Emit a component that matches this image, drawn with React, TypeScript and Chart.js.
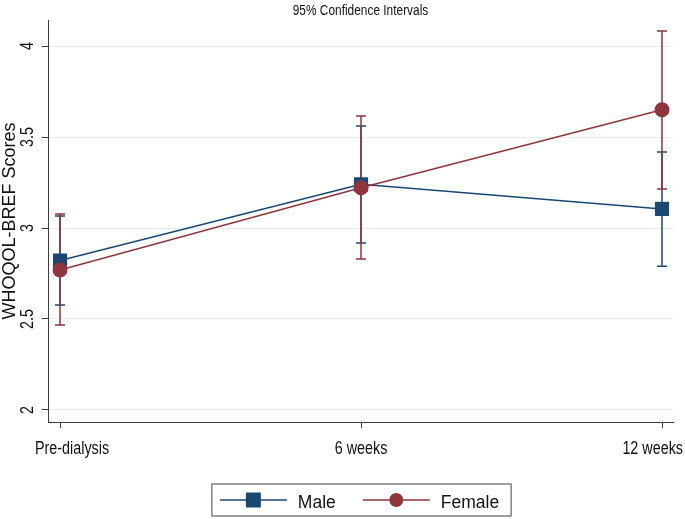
import React, { useEffect, useRef } from 'react';
import { Chart, registerables } from 'chart.js';

Chart.register(...registerables);

const categories = ['Pre-dialysis', '6 weeks', '12 weeks'];
const maleMean = [2.821, 3.24, 3.105];
const maleLower = [2.577, 2.918, 2.79];
const maleUpper = [3.066, 3.56, 3.418];
const femaleMean = [2.769, 3.221, 3.65];
const femaleLower = [2.467, 2.83, 3.214];
const femaleUpper = [3.077, 3.615, 4.082];
const yTicks = [2, 2.5, 3, 3.5, 4];
const yTickLabels = ['2', '2.5', '3', '3.5', '4'];
const titleText = '95% Confidence Intervals';
const yTitle = 'WHOQOL-BREF Scores';

const NAVY = '#1a476f';
const MAROON = '#90353b';
const AXIS = '#3c3c3c';
const GRID = '#e6eef0';
const REGULAR = '"Liberation Sans", Arial, sans-serif';
const NARROW_SCALE = 0.82;

const errorSeries = [
  { lower: maleLower, upper: maleUpper, color: NAVY },
  { lower: femaleLower, upper: femaleUpper, color: MAROON },
];

// draws condensed text (Arial-Narrow-like) at (x, y) with given rotation
function narrowText(ctx: any, text: string, x: number, y: number, align: string, rot = 0) {
  ctx.save();
  ctx.translate(x, y);
  if (rot) ctx.rotate(rot);
  ctx.scale(NARROW_SCALE, 1);
  ctx.textAlign = align;
  ctx.fillText(text, 0, 0);
  ctx.restore();
}

const decorPlugin = {
  id: 'stataDecor',
  beforeDatasetsDraw(chart: any) {
    const { ctx } = chart;
    const x = chart.scales.x;
    const y = chart.scales.y;
    ctx.save();
    ctx.lineWidth = 1.5;
    errorSeries.forEach((s) => {
      ctx.strokeStyle = s.color;
      categories.forEach((_, i) => {
        const px = x.getPixelForValue(i);
        const top = y.getPixelForValue(s.upper[i]);
        const bot = y.getPixelForValue(s.lower[i]);
        ctx.beginPath();
        ctx.moveTo(px, top);
        ctx.lineTo(px, bot);
        ctx.moveTo(px - 5, top);
        ctx.lineTo(px + 5, top);
        ctx.moveTo(px - 5, bot);
        ctx.lineTo(px + 5, bot);
        ctx.stroke();
      });
    });
    ctx.restore();
  },
  afterDraw(chart: any) {
    const { ctx, chartArea } = chart;
    const x = chart.scales.x;
    const y = chart.scales.y;
    const cx = (chartArea.left + chartArea.right) / 2;
    const cy = (chartArea.top + chartArea.bottom) / 2;
    ctx.save();
    ctx.fillStyle = '#111';

    // title
    ctx.font = `14.5px ${REGULAR}`;
    ctx.textBaseline = 'middle';
    narrowText(ctx, titleText, cx, 11, 'center');

    // y tick labels (rotated)
    ctx.font = `17.5px ${REGULAR}`;
    ctx.textBaseline = 'alphabetic';
    yTicks.forEach((v, i) => {
      const py = y.getPixelForValue(v);
      narrowText(ctx, yTickLabels[i], chartArea.left - 15, py, 'center', -Math.PI / 2);
    });

    // y title
    ctx.font = `18px ${REGULAR}`;
    ctx.save();
    ctx.translate(15, cy);
    ctx.rotate(-Math.PI / 2);
    ctx.textAlign = 'center';
    ctx.fillText(yTitle, 0, 0);
    ctx.restore();

    // x tick labels (clamped inside the graph region)
    ctx.font = `17.5px ${REGULAR}`;
    categories.forEach((lab, i) => {
      const px = x.getPixelForValue(i);
      const w = ctx.measureText(lab).width * NARROW_SCALE;
      let left = px - w / 2;
      if (left < 35) left = 35;
      if (left + w > chart.width - 2) left = chart.width - 2 - w;
      narrowText(ctx, lab, left, chartArea.bottom + 32, 'left');
    });

    // legend
    ctx.font = `17.5px ${REGULAR}`;
    const items = [
      { label: 'Male', color: NAVY, style: 'rect' },
      { label: 'Female', color: MAROON, style: 'circle' },
    ];
    const lineLen = 67;
    const gapLT = 11;
    const gapItems = 27;
    const padL = 8;
    const padR = 12;
    const widths = items.map((it) => ctx.measureText(it.label).width);
    const boxW = padL + padR + gapItems + items.length * (lineLen + gapLT) + widths.reduce((a, b) => a + b, 0);
    const boxH = 32;
    const boxLeft = cx + 1 - boxW / 2;
    const boxTop = chartArea.bottom + 62;
    ctx.strokeStyle = '#6e6e6e';
    ctx.lineWidth = 1.3;
    ctx.strokeRect(boxLeft, boxTop, boxW, boxH);
    const midY = boxTop + boxH / 2;
    let cur = boxLeft + padL;
    items.forEach((it, i) => {
      ctx.strokeStyle = it.color;
      ctx.fillStyle = it.color;
      ctx.lineWidth = 1.5;
      ctx.beginPath();
      ctx.moveTo(cur, midY);
      ctx.lineTo(cur + lineLen, midY);
      ctx.stroke();
      const mx = cur + lineLen / 2;
      if (it.style === 'rect') {
        ctx.fillRect(mx - 7.5, midY - 7.5, 15, 15);
      } else {
        ctx.beginPath();
        ctx.arc(mx, midY, 7, 0, Math.PI * 2);
        ctx.fill();
      }
      cur += lineLen + gapLT;
      ctx.fillStyle = '#111';
      ctx.textAlign = 'left';
      ctx.fillText(it.label, cur, midY + 8);
      cur += widths[i] + gapItems;
    });
    ctx.restore();
  },
};

export default function App() {
  const ref = useRef<HTMLCanvasElement | null>(null);

  useEffect(() => {
    if (!ref.current) return;
    const chart = new Chart(ref.current, {
      type: 'line',
      data: {
        datasets: [
          {
            label: 'Male',
            data: categories.map((_, i) => ({ x: i, y: maleMean[i] })),
            borderColor: NAVY,
            backgroundColor: NAVY,
            pointBackgroundColor: NAVY,
            pointBorderColor: NAVY,
            pointStyle: 'rect',
            pointRadius: 10,
            pointBorderWidth: 0,
            borderWidth: 1.5,
            tension: 0,
            order: 2,
          },
          {
            label: 'Female',
            data: categories.map((_, i) => ({ x: i, y: femaleMean[i] })),
            borderColor: MAROON,
            backgroundColor: MAROON,
            pointBackgroundColor: MAROON,
            pointBorderColor: MAROON,
            pointStyle: 'circle',
            pointRadius: 7.5,
            pointBorderWidth: 0,
            borderWidth: 1.5,
            tension: 0,
            order: 1,
          },
        ],
      },
      options: {
        animation: false,
        responsive: false,
        events: [],
        layout: { padding: { left: 42, right: 12, top: 20, bottom: 91 } },
        plugins: {
          legend: { display: false },
          tooltip: { enabled: false },
          title: { display: false },
        },
        scales: {
          x: {
            type: 'linear',
            min: -0.04,
            max: 2.0365,
            afterBuildTicks: (scale: any) => {
              scale.ticks = categories.map((_, i) => ({ value: i }));
            },
            ticks: { display: false },
            grid: {
              display: true,
              drawOnChartArea: false,
              drawTicks: true,
              tickLength: 6,
              tickColor: AXIS,
              tickWidth: 1,
            },
            border: { display: true, color: AXIS, width: 1 },
          },
          y: {
            type: 'linear',
            min: 1.934,
            max: 4.143,
            afterBuildTicks: (scale: any) => {
              scale.ticks = yTicks.map((v) => ({ value: v }));
            },
            ticks: { display: false },
            grid: {
              display: true,
              drawOnChartArea: true,
              color: GRID,
              lineWidth: 1,
              drawTicks: true,
              tickLength: 6,
              tickColor: AXIS,
              tickWidth: 1,
            },
            border: { display: true, color: AXIS, width: 1 },
          },
        },
      },
      plugins: [decorPlugin],
    });
    return () => chart.destroy();
  }, []);

  return (
    <div style={{ position: 'fixed', left: 0, top: 0, width: 685, height: 519, background: '#fff' }}>
      <canvas ref={ref} width={685} height={519} style={{ display: 'block' }} />
    </div>
  );
}
